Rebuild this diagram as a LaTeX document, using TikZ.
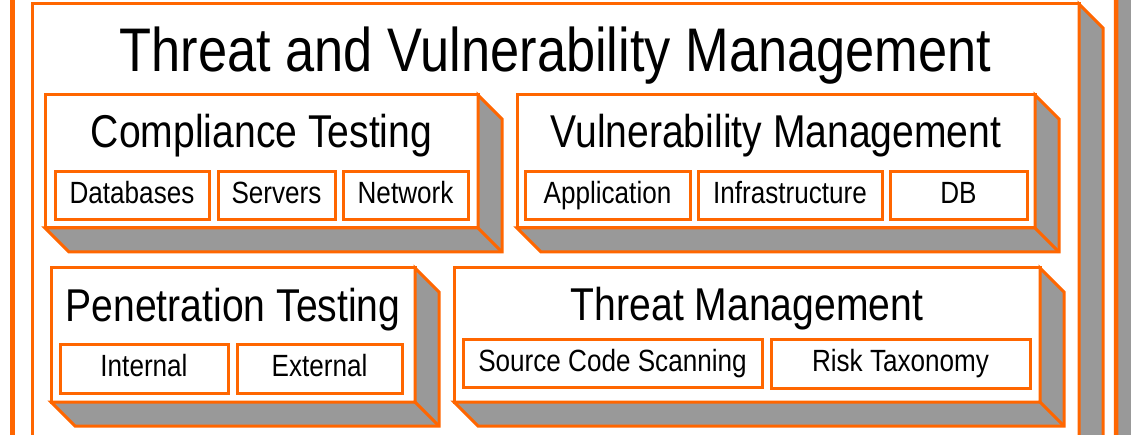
\documentclass[tikz,border=0pt]{standalone}
\usepackage{fontspec}
\setmainfont{Liberation Sans}
\newfontfamily\narrowfont[FakeStretch=0.85]{Liberation Sans}
\usetikzlibrary{calc}
\definecolor{borange}{HTML}{FF6600}
\definecolor{sgray}{HTML}{999999}
\newcommand\tdbox[6][3pt]{%
  \node[box, line width=#1, minimum width=#5pt, minimum height=#6pt] (#2) at (#3,#4) {};
  \draw[ext, line width=#1] (#2.north east) -- ++(24,24) -- ($(#2.south east)+(24,24)$) -- ($(#2.south west)+(24,24)$) -- (#2.south west) -- (#2.south east) -- cycle;
  \draw[borange, line width=#1] (#2.south east) -- ($(#2.south east)+(24,24)$);
}
\begin{document}
\begin{tikzpicture}[x=1pt,y=-1pt,
  box/.style={draw=borange, line width=3pt, fill=white, inner sep=0pt, outer sep=0pt, anchor=north west},
  ext/.style={fill=sgray, draw=borange, line width=3pt, line join=miter},
  lab/.style={box, font=\narrowfont\fontsize{30.7}{31}\selectfont, text height=22pt, text depth=6pt},
  titletext/.style={font=\narrowfont\fontsize{61.6}{62}\selectfont, anchor=base, inner sep=0pt},
  headtext/.style={font=\narrowfont\fontsize{46}{46}\selectfont, anchor=base, inner sep=0pt}]
\useasboundingbox (0,0) rectangle (1131,435);
\begin{scope}
\clip (0,0) rectangle (1131,435);
% outermost frame
\tdbox[4.5pt]{frame}{12.5}{-100}{1103.5}{640}
% title box
\tdbox{outer}{32}{4}{1047}{520}
\node[titletext] (title) at (555.5,72) {Threat and Vulnerability Management};
% Compliance Testing
\tdbox{ct}{45}{95}{433}{133}
\node[headtext] (cthead) at (261.5,148) {Compliance Testing};
\node[lab, minimum width=154pt, minimum height=48pt] (db1) at (55,172) {Databases};
\node[lab, minimum width=117pt, minimum height=48pt] (srv) at (218,172) {Servers};
\node[lab, minimum width=125pt, minimum height=48pt] (net) at (343,172) {Network};
% Vulnerability Management
\tdbox{vm}{517}{95}{518}{133}
\node[headtext] (vmhead) at (776,148) {Vulnerability Management};
\node[lab, minimum width=165pt, minimum height=48pt] (app) at (525,172) {Application};
\node[lab, minimum width=184pt, minimum height=48pt] (inf) at (698,172) {Infrastructure};
\node[lab, minimum width=137pt, minimum height=48pt] (db2) at (890,172) {DB};
% Penetration Testing
\tdbox{pt}{51}{268}{364}{134}
\node[headtext] (pthead) at (233,321) {Penetration Testing};
\node[lab, minimum width=168pt, minimum height=49pt] (int) at (60,344) {Internal};
\node[lab, minimum width=165pt, minimum height=49pt] (ext) at (237,344) {External};
% Threat Management
\tdbox{tm}{454}{268}{586}{134}
\node[headtext] (tmhead) at (747,320) {Threat Management};
\node[lab, minimum width=299pt, minimum height=48pt] (scs) at (463,339) {Source Code Scanning};
\node[lab, minimum width=259pt, minimum height=49pt] (risk) at (771,339) {Risk Taxonomy};
\end{scope}
\end{tikzpicture}
\end{document}
